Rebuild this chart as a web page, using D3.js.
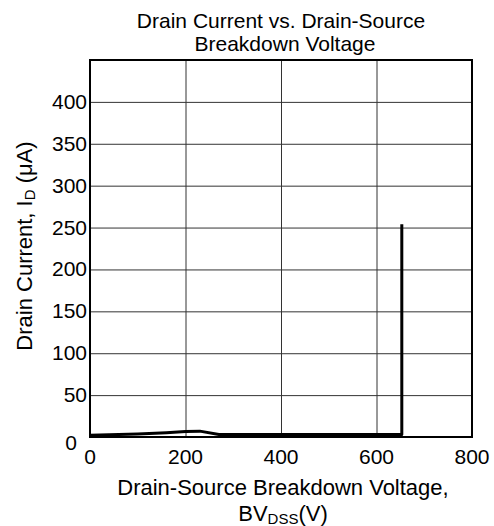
<!DOCTYPE html>
<html>
<head>
<meta charset="utf-8">
<script src="https://cdn.jsdelivr.net/npm/d3@7"></script>
<style>
  body { margin: 0; background: #fff; }
  text { font-family: "Liberation Sans", Arial, sans-serif; fill: #000; }
</style>
</head>
<body>
<svg id="chart"></svg>
<script>
// breakdown curve
var voltage = [0, 100, 160, 200, 230, 270, 400, 600, 653, 653];
var current = [2, 3.5, 5, 6.5, 7, 3, 3, 3, 3, 254];
var xTicks = [0, 200, 400, 600, 800];
var yTicks = [0, 50, 100, 150, 200, 250, 300, 350, 400];
var titleLines = ["Drain Current vs. Drain-Source", "Breakdown Voltage"];

var width = 494, height = 526;
var margin = {left: 90, top: 60, right: 22, bottom: 89};
var svg = d3.select("#chart").attr("width", width).attr("height", height);

var x = d3.scaleLinear().domain([0, 800]).range([margin.left, width - margin.right]);
var y = d3.scaleLinear().domain([0, 450]).range([height - margin.bottom, margin.top]);

// grid
svg.append("g")
   .attr("transform", "translate(0," + (height - margin.bottom) + ")")
   .call(d3.axisBottom(x).tickValues(xTicks).tickSize(-(y(0) - y(450))).tickFormat(""))
   .call(function(g) { g.select(".domain").remove(); })
   .selectAll("line").attr("stroke", "#333").attr("stroke-width", 1);

svg.append("g")
   .attr("transform", "translate(" + margin.left + ",0)")
   .call(d3.axisLeft(y).tickValues(yTicks.slice(1)).tickSize(-(x(800) - x(0))).tickFormat(""))
   .call(function(g) { g.select(".domain").remove(); })
   .selectAll("line").attr("stroke", "#333").attr("stroke-width", 1);

// tick labels
svg.append("g").selectAll("text")
   .data(xTicks).enter().append("text")
   .attr("x", function(d) { return x(d); })
   .attr("y", y(0) + 27)
   .attr("text-anchor", "middle")
   .style("font-size", "21px")
   .text(function(d) { return d; });

svg.append("g").selectAll("text")
   .data(yTicks).enter().append("text")
   .attr("x", function(d) { return d === 0 ? margin.left - 13 : margin.left - 3; })
   .attr("y", function(d) { return d === 0 ? y(d) + 13 : y(d) + 7; })
   .attr("text-anchor", "end")
   .style("font-size", "21px")
   .text(function(d) { return d; });

// data
var line = d3.line()
   .x(function(d) { return x(d[0]); })
   .y(function(d) { return y(d[1]); });

svg.append("path")
   .datum(d3.zip(voltage, current))
   .attr("d", line)
   .attr("fill", "none")
   .attr("stroke", "#000")
   .attr("stroke-width", 3)
   .attr("stroke-linejoin", "round");

// frame
svg.append("rect")
   .attr("x", x(0)).attr("y", y(450))
   .attr("width", x(800) - x(0)).attr("height", y(0) - y(450))
   .attr("fill", "none").attr("stroke", "#000").attr("stroke-width", 2);

// title
svg.append("g").selectAll("text")
   .data(titleLines).enter().append("text")
   .attr("x", function(d, i) { return i ? 285 : 281; })
   .attr("y", function(d, i) { return 28 + i * 23; })
   .attr("text-anchor", "middle")
   .style("font-size", "21px")
   .text(function(d) { return d; });

// x label
svg.append("text")
   .attr("x", 283).attr("y", 495)
   .attr("text-anchor", "middle")
   .style("font-size", "22px")
   .text("Drain-Source Breakdown Voltage,");

var xl2 = svg.append("text")
   .attr("x", 283).attr("y", 521)
   .attr("text-anchor", "middle")
   .style("font-size", "22px");
xl2.append("tspan").text("BV");
xl2.append("tspan").attr("dy", 3).style("font-size", "15px").text("DSS");
xl2.append("tspan").attr("dy", -3).text("(V)");

// y label
var yl = svg.append("text")
   .attr("transform", "translate(32," + 246 + ") rotate(-90)")
   .attr("text-anchor", "middle")
   .style("font-size", "22px");
yl.append("tspan").text("Drain Current, I");
yl.append("tspan").attr("dy", 3).style("font-size", "15px").text("D");
yl.append("tspan").attr("dy", -3).text(" (\u03bcA)");
</script>
</body>
</html>
